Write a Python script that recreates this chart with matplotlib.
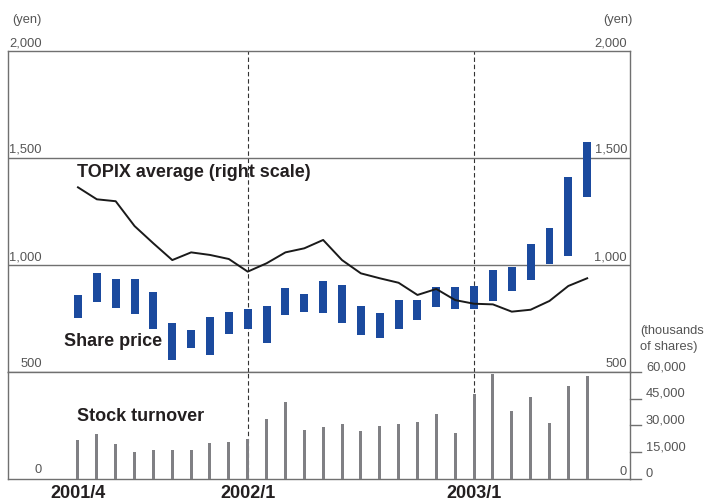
import numpy as np
import matplotlib
matplotlib.use("Agg")
import matplotlib.pyplot as plt
from matplotlib.transforms import blended_transform_factory as blend

plt.rcParams['font.family'] = ['Liberation Sans', 'DejaVu Sans']

# ---------------- data ----------------
months = ['2001/4', '2001/5', '2001/6', '2001/7', '2001/8', '2001/9', '2001/10',
          '2001/11', '2001/12', '2002/1', '2002/2', '2002/3', '2002/4', '2002/5',
          '2002/6', '2002/7', '2002/8', '2002/9', '2002/10', '2002/11', '2002/12',
          '2003/1', '2003/2', '2003/3', '2003/4', '2003/5', '2003/6', '2003/7']
price_high = [860, 963, 935, 935, 874, 729, 696, 757, 780, 794, 808, 893, 864, 925,
              907, 808, 776, 836, 836, 899, 899, 903, 977, 992, 1100, 1173, 1411, 1575]
price_low = [754, 829, 800, 772, 702, 557, 614, 581, 679, 702, 637, 768, 782, 777,
             730, 674, 660, 702, 744, 805, 796, 794, 833, 880, 931, 1005, 1043, 1319]
topix = [1363, 1307, 1298, 1182, 1101, 1023, 1059, 1047, 1028, 969, 1008, 1059, 1078, 1117,
         1023, 961, 938, 917, 860, 888, 836, 819, 816, 782, 791, 832, 902, 938]
turnover = [21650, 25000, 19400, 14900, 16000, 16000, 16000, 20000, 20500, 22200, 33500,
            43000, 27300, 29000, 30700, 26700, 29500, 30700, 31800, 36300, 25600, 47500,
            58800, 38000, 45800, 31200, 52000, 57600]
x_tick_labels = ['2001/4', '2002/1', '2003/1']
dashed_months = ['2002/1', '2003/1']
price_ticks = [2000, 1500, 1000, 500]
price_tick_labels = ['2,000', '1,500', '1,000', '500']
vol_ticks = [60000, 45000, 30000, 15000, 0]
vol_tick_labels = ['60,000', '45,000', '30,000', '15,000', '0']

# ---------------- style ----------------
BLUE = '#1b4a9e'
GRAY_BAR = '#808084'
LINE_GRAY = '#707070'
TXT_GRAY = '#555555'
TXT_DARK = '#231f20'

x = np.arange(len(months))
xlim = (-3.71, 29.27)

fig = plt.figure(figsize=(7.16, 5.01), dpi=100)
W, H = 716.0, 501.0
ax1 = fig.add_axes([8 / W, 1 - 372 / H, 622 / W, 321 / H])
ax2 = fig.add_axes([8 / W, 1 - 478.7 / H, 622 / W, 106.7 / H])

for ax in (ax1, ax2):
    ax.set_xlim(*xlim)
    ax.set_xticks([])
    ax.set_yticks([])
    for s in ax.spines.values():
        s.set_color(LINE_GRAY)
        s.set_linewidth(1.0)
    for m in dashed_months:
        ax.axvline(months.index(m), color='#333333', lw=0.8,
                   linestyle=(0, (4, 2.5)), zorder=1)

# price panel
ax1.set_ylim(500, 2000)
for v in (1500, 1000):
    ax1.axhline(v, color=LINE_GRAY, lw=1.0, zorder=1)
ax1.bar(x, np.array(price_high) - np.array(price_low), bottom=price_low,
        width=0.42, color=BLUE, zorder=3)
ax1.plot(x, topix, color='#1a1a1a', lw=1.4, zorder=4)

# turnover panel
ax2.set_ylim(0, 60000)
ax2.bar(x, turnover, width=0.16, color=GRAY_BAR, zorder=3)

# ---------------- tick labels ----------------
tfs = 9.3
tl1 = blend(ax1.transAxes, ax1.transData)
left_x = (42 - 8) / 622
right_x = (627 - 8) / 622
for v, lab in zip(price_ticks, price_tick_labels):
    ax1.annotate(lab, (left_x, v), xycoords=tl1, xytext=(0, 5), textcoords='offset pixels',
                 ha='right', va='baseline', fontsize=tfs, color=TXT_GRAY)
    ax1.annotate(lab, (right_x, v), xycoords=tl1, xytext=(0, 5), textcoords='offset pixels',
                 ha='right', va='baseline', fontsize=tfs, color=TXT_GRAY)
ax1.annotate('(yen)', (left_x, 2000), xycoords=tl1, xytext=(0, 28), textcoords='offset pixels',
             ha='right', va='baseline', fontsize=tfs, color=TXT_GRAY)
ax1.annotate('(yen)', ((633 - 8) / 622, 2000), xycoords=tl1, xytext=(0, 28),
             textcoords='offset pixels', ha='right', va='baseline', fontsize=tfs, color=TXT_GRAY)

tl2 = blend(ax2.transAxes, ax2.transData)
for v, lab in zip(vol_ticks, vol_tick_labels):
    ax2.plot([1.0, 1.0 + 11 / 622], [v, v], transform=tl2, color=LINE_GRAY, lw=1.0,
             clip_on=False)
    ax2.annotate(lab, (1.0, v), xycoords=tl2, xytext=(16, 2), textcoords='offset pixels',
                 ha='left', va='baseline', fontsize=tfs, color=TXT_GRAY)
ax2.annotate('0', (left_x, 0), xycoords=tl2, xytext=(0, 6), textcoords='offset pixels',
             ha='right', va='baseline', fontsize=tfs, color=TXT_GRAY)
ax2.annotate('0', (right_x, 0), xycoords=tl2, xytext=(0, 4), textcoords='offset pixels',
             ha='right', va='baseline', fontsize=tfs, color=TXT_GRAY)
ax1.annotate('(thousands\nof shares)', (1.0, 500), xycoords=tl1, xytext=(10, 22),
             textcoords='offset pixels', ha='left', va='baseline', fontsize=tfs,
             color=TXT_GRAY, linespacing=1.45)

# x labels
xt = blend(ax2.transData, ax2.transAxes)
for lab in x_tick_labels:
    ax2.text(months.index(lab), (478.7 - 497.5) / 106.7, lab, transform=xt, ha='center',
             va='baseline', fontsize=13, fontweight='bold', color=TXT_DARK)

# series labels
ax1.text((77 - 8) / 622, (372 - 176.7) / 321, 'TOPIX average (right scale)',
         transform=ax1.transAxes, ha='left', va='baseline', fontsize=13,
         fontweight='bold', color=TXT_DARK)
ax1.text((64 - 8) / 622, (372 - 346.5) / 321, 'Share price', transform=ax1.transAxes,
         ha='left', va='baseline', fontsize=13, fontweight='bold', color=TXT_DARK, zorder=5)
ax2.text((77 - 8) / 622, (478.7 - 420.7) / 106.7, 'Stock turnover', transform=ax2.transAxes,
         ha='left', va='baseline', fontsize=13, fontweight='bold', color=TXT_DARK)

fig.savefig('out.png', dpi=100)
